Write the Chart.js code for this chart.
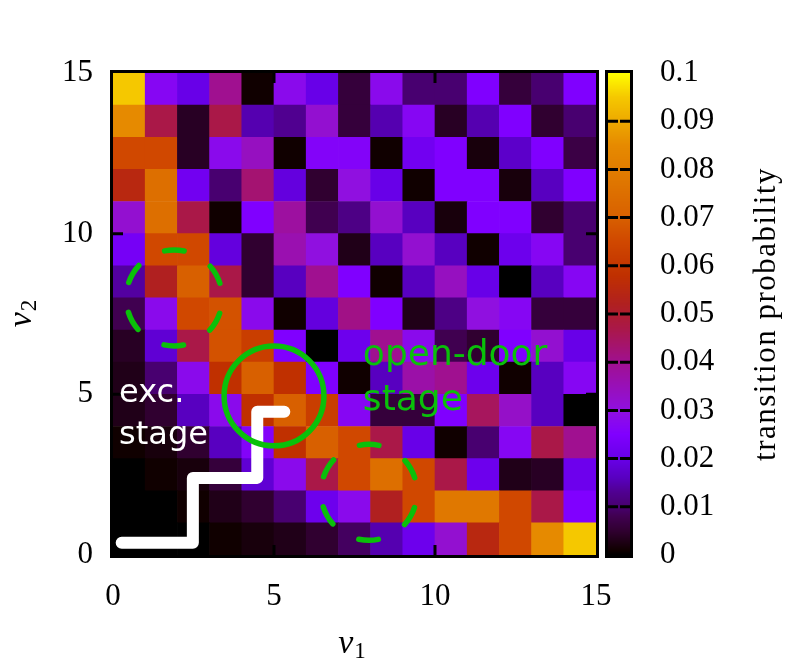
<!DOCTYPE html>
<html>
<head>
<meta charset="utf-8">
<script src="https://cdn.jsdelivr.net/npm/chart.js@4.4.1/dist/chart.umd.min.js"></script>
<style>
  html, body { margin: 0; padding: 0; background: #fff; }
</style>
</head>
<body>
<canvas id="heat" width="785" height="660"></canvas>
<script>
// lower edge of each cell
const nu1Bins = [0, 1, 2, 3, 4, 5, 6, 7, 8, 9, 10, 11, 12, 13, 14];
const nu2Bins = [0, 1, 2, 3, 4, 5, 6, 7, 8, 9, 10, 11, 12, 13, 14];

// transition probability, one array per nu2 row, ordered by nu1
const pNu2_0  = [0.000, 0.000, 0.000, 0.001, 0.002, 0.003, 0.005, 0.009, 0.015, 0.021, 0.032, 0.055, 0.065, 0.085, 0.095];
const pNu2_1  = [0.000, 0.000, 0.001, 0.003, 0.005, 0.010, 0.021, 0.028, 0.052, 0.065, 0.078, 0.078, 0.065, 0.047, 0.025];
const pNu2_2  = [0.000, 0.001, 0.002, 0.006, 0.018, 0.028, 0.047, 0.065, 0.075, 0.065, 0.047, 0.021, 0.003, 0.004, 0.021];
const pNu2_3  = [0.001, 0.002, 0.005, 0.016, 0.026, 0.058, 0.070, 0.065, 0.047, 0.020, 0.001, 0.010, 0.027, 0.047, 0.040];
const pNu2_4  = [0.003, 0.005, 0.016, 0.028, 0.058, 0.070, 0.062, 0.027, 0.006, 0.006, 0.025, 0.045, 0.033, 0.016, 0.000];
const pNu2_5  = [0.003, 0.010, 0.028, 0.058, 0.070, 0.058, 0.025, 0.001, 0.016, 0.037, 0.040, 0.021, 0.001, 0.016, 0.027];
const pNu2_6  = [0.004, 0.018, 0.047, 0.067, 0.062, 0.025, 0.000, 0.021, 0.040, 0.028, 0.008, 0.005, 0.025, 0.032, 0.020];
const pNu2_7  = [0.008, 0.028, 0.065, 0.067, 0.028, 0.001, 0.019, 0.041, 0.025, 0.003, 0.012, 0.030, 0.027, 0.006, 0.006];
const pNu2_8  = [0.014, 0.052, 0.070, 0.047, 0.005, 0.016, 0.040, 0.025, 0.001, 0.016, 0.034, 0.020, 0.000, 0.016, 0.027];
const pNu2_9  = [0.023, 0.065, 0.065, 0.019, 0.005, 0.036, 0.030, 0.003, 0.016, 0.032, 0.016, 0.001, 0.021, 0.027, 0.010];
const pNu2_10 = [0.032, 0.075, 0.047, 0.001, 0.025, 0.038, 0.008, 0.012, 0.032, 0.016, 0.002, 0.025, 0.025, 0.005, 0.010];
const pNu2_11 = [0.055, 0.075, 0.022, 0.010, 0.043, 0.019, 0.005, 0.030, 0.020, 0.001, 0.025, 0.025, 0.002, 0.016, 0.025];
const pNu2_12 = [0.065, 0.065, 0.004, 0.028, 0.034, 0.001, 0.026, 0.026, 0.001, 0.022, 0.025, 0.002, 0.017, 0.025, 0.007];
const pNu2_13 = [0.085, 0.047, 0.004, 0.047, 0.015, 0.013, 0.032, 0.006, 0.015, 0.027, 0.004, 0.015, 0.025, 0.005, 0.010];
const pNu2_14 = [0.095, 0.027, 0.020, 0.040, 0.001, 0.028, 0.020, 0.006, 0.028, 0.010, 0.010, 0.025, 0.006, 0.010, 0.025];

const probRows = [pNu2_0, pNu2_1, pNu2_2, pNu2_3, pNu2_4, pNu2_5, pNu2_6, pNu2_7,
                  pNu2_8, pNu2_9, pNu2_10, pNu2_11, pNu2_12, pNu2_13, pNu2_14];

const axisTicks = [0, 5, 10, 15];
const cbTicks = [0, 0.01, 0.02, 0.03, 0.04, 0.05, 0.06, 0.07, 0.08, 0.09, 0.1];

// palette stops (value -> colour)
const stopValues = [0, 0.001, 0.003, 0.005, 0.008, 0.01, 0.013, 0.016, 0.02, 0.025, 0.03, 0.04,
                    0.047, 0.052, 0.058, 0.065, 0.07, 0.078, 0.085, 0.095, 0.1];
const stopColors = ['#000000', '#100000', '#200018', '#300030', '#400050', '#480070', '#500090',
                    '#5800c0', '#6800e8', '#8000ff', '#9010e0', '#a01090', '#aa1848', '#b02020',
                    '#c03000', '#d04800', '#d86000', '#e07800', '#e68a00', '#f5c800', '#ffff00'];

function hexToRgb(h) {
  return [parseInt(h.slice(1, 3), 16), parseInt(h.slice(3, 5), 16), parseInt(h.slice(5, 7), 16)];
}

function colorFor(v) {
  if (v <= stopValues[0]) return stopColors[0];
  for (let k = 1; k < stopValues.length; k++) {
    if (v <= stopValues[k]) {
      const t = (v - stopValues[k - 1]) / (stopValues[k] - stopValues[k - 1]);
      const a = hexToRgb(stopColors[k - 1]), b = hexToRgb(stopColors[k]);
      const c = a.map((q, n) => Math.round(q + (b[n] - q) * t));
      return 'rgb(' + c.join(',') + ')';
    }
  }
  return stopColors[stopColors.length - 1];
}

const tickFont = { family: "'Liberation Serif', 'Times New Roman', serif", size: 31 };
const green = '#0ac00a';

// overlays: frame, inward ticks, colour bar, annotations, axis titles
const overlay = {
  id: 'overlay',
  afterDraw(chart) {
    const ctx = chart.ctx;
    const a = chart.chartArea;
    const x = chart.scales.x, y = chart.scales.y, cb = chart.scales.cb;
    ctx.save();

    // plot frame + inward ticks
    ctx.strokeStyle = '#000';
    ctx.lineWidth = 3;
    ctx.strokeRect(a.left - 1.5, a.top - 1.5, a.width + 3, a.height + 3);
    ctx.beginPath();
    [5, 10].forEach(function(v) {
      const px = x.getPixelForValue(v), py = y.getPixelForValue(v);
      ctx.moveTo(px, a.bottom); ctx.lineTo(px, a.bottom - 10);
      ctx.moveTo(px, a.top); ctx.lineTo(px, a.top + 10);
      ctx.moveTo(a.left, py); ctx.lineTo(a.left + 10, py);
      ctx.moveTo(a.right, py); ctx.lineTo(a.right - 10, py);
    });
    ctx.stroke();

    // colour bar
    const cx0 = a.right + 12, cx1 = a.right + 34;
    const top = cb.getPixelForValue(0.1), bot = cb.getPixelForValue(0);
    for (let py = Math.floor(top); py < bot; py++) {
      ctx.fillStyle = colorFor(cb.getValueForPixel(py + 0.5));
      ctx.fillRect(cx0, py, cx1 - cx0, 1);
    }
    ctx.strokeRect(cx0 - 1.5, top - 1.5, cx1 - cx0 + 3, bot - top + 3);
    ctx.beginPath();
    cbTicks.slice(1, -1).forEach(function(v) {
      const py = cb.getPixelForValue(v);
      ctx.moveTo(cx0, py); ctx.lineTo(cx0 + 10, py);
      ctx.moveTo(cx1 - 10, py); ctx.lineTo(cx1, py);
    });
    ctx.stroke();

    // colour bar title
    ctx.fillStyle = '#000';
    ctx.font = "31px 'Liberation Serif', serif";
    ctx.textAlign = 'center';
    ctx.textBaseline = 'alphabetic';
    ctx.save();
    ctx.translate(775, (a.top + a.bottom) / 2);
    ctx.rotate(-Math.PI / 2);
    if ('letterSpacing' in ctx) ctx.letterSpacing = '1.5px';
    ctx.fillText('transition probability', 0, 0);
    ctx.restore();

    // axis titles nu_1, nu_2
    function nuLabel(sub) {
      ctx.font = "italic 34px 'Liberation Serif', serif";
      const w1 = ctx.measureText('ν').width;
      ctx.font = "23px 'Liberation Serif', serif";
      const w2 = ctx.measureText(sub).width;
      const start = -(w1 + w2) / 2;
      ctx.textAlign = 'left';
      ctx.font = "italic 34px 'Liberation Serif', serif";
      ctx.fillText('ν', start, 0);
      ctx.font = "23px 'Liberation Serif', serif";
      ctx.fillText(sub, start + w1 + 1, 5);
    }
    ctx.save();
    ctx.translate((a.left + a.right) / 2 - 3, 653);
    nuLabel('1');
    ctx.restore();
    ctx.save();
    ctx.translate(31, (a.top + a.bottom) / 2);
    ctx.rotate(-Math.PI / 2);
    nuLabel('2');
    ctx.restore();

    // clip annotations to plot area
    ctx.save();
    ctx.beginPath();
    ctx.rect(a.left, a.top, a.width, a.height);
    ctx.clip();

    const unit = x.getPixelForValue(1) - x.getPixelForValue(0);

    // excitation path (white staircase)
    const path = [[0.27, 0.38], [2.48, 0.38], [2.48, 2.4], [4.48, 2.4], [4.48, 4.46], [5.32, 4.46]];
    ctx.strokeStyle = '#fff';
    ctx.lineWidth = 12;
    ctx.lineCap = 'round';
    ctx.lineJoin = 'round';
    ctx.beginPath();
    path.forEach(function(p, k) {
      const px = x.getPixelForValue(p[0]), py = y.getPixelForValue(p[1]);
      if (k === 0) ctx.moveTo(px, py); else ctx.lineTo(px, py);
    });
    ctx.stroke();

    // solid green circle
    ctx.strokeStyle = green;
    ctx.lineWidth = 5.5;
    ctx.beginPath();
    ctx.arc(x.getPixelForValue(5.0), y.getPixelForValue(4.95), 1.55 * unit, 0, Math.PI * 2);
    ctx.stroke();

    // dashed green circles
    [[1.9, 8.0], [7.95, 1.95]].forEach(function(c) {
      const r = 1.49 * unit;
      const period = 2 * Math.PI * r / 6;
      const dash = period * 0.5 - 5.5;
      ctx.setLineDash([dash, period - dash]);
      ctx.lineCap = 'round';
      const a0 = -101.5 * Math.PI / 180;
      ctx.beginPath();
      ctx.arc(x.getPixelForValue(c[0]), y.getPixelForValue(c[1]), r, a0, a0 + Math.PI * 2);
      ctx.stroke();
    });
    ctx.setLineDash([]);

    // stage labels
    ctx.textAlign = 'left';
    ctx.textBaseline = 'alphabetic';
    ctx.fillStyle = '#fff';
    ctx.font = "32px 'DejaVu Sans', sans-serif";
    ctx.fillText('exc.', x.getPixelForValue(0.19), y.getPixelForValue(4.76));
    ctx.fillText('stage', x.getPixelForValue(0.19), y.getPixelForValue(3.45));
    ctx.fillStyle = green;
    ctx.font = "36px 'DejaVu Sans', sans-serif";
    ctx.fillText('open-door', x.getPixelForValue(7.76), y.getPixelForValue(5.91));
    ctx.fillText('stage', x.getPixelForValue(7.76), y.getPixelForValue(4.51));
    ctx.restore();

    ctx.restore();
  }
};

const datasets = probRows.map(function(row, j) {
  return {
    label: 'ν2 = ' + nu2Bins[j],
    data: row.map(function(p, i) { return { x: nu1Bins[i] + 0.5, y: 1 }; }),
    backgroundColor: row.map(colorFor),
    borderWidth: 0,
    barPercentage: 1,
    categoryPercentage: 1
  };
});

const config = {
  type: 'bar',
  data: { datasets: datasets },
  options: {
    responsive: false,
    animation: false,
    events: [],
    layout: { padding: { top: 73, right: 0, bottom: 0, left: 0 } },
    plugins: { legend: { display: false }, tooltip: { enabled: false } },
    scales: {
      x: {
        type: 'linear',
        min: 0, max: 15,
        offset: false,
        stacked: true,
        grid: { display: false, drawTicks: false, offset: false },
        border: { display: false },
        afterBuildTicks: function(s) { s.ticks = axisTicks.map(function(v) { return { value: v }; }); },
        afterFit: function(s) { s.height = 105; },
        ticks: { font: tickFont, color: '#000', padding: 23, maxRotation: 0 }
      },
      y: {
        type: 'linear',
        min: 0, max: 15,
        stacked: true,
        grid: { display: false, drawTicks: false },
        border: { display: false },
        afterBuildTicks: function(s) { s.ticks = axisTicks.map(function(v) { return { value: v }; }); },
        afterFit: function(s) { s.width = 113; s.paddingTop = 20; s.paddingBottom = 20; },
        ticks: { font: tickFont, color: '#000', padding: 20 }
      },
      cb: {
        type: 'linear',
        position: 'right',
        min: 0, max: 0.1,
        grid: { display: false, drawTicks: false },
        border: { display: false },
        afterBuildTicks: function(s) { s.ticks = cbTicks.map(function(v) { return { value: v }; }); },
        afterFit: function(s) { s.width = 189; s.paddingTop = 20; s.paddingBottom = 20; },
        ticks: {
          font: tickFont, color: '#000', padding: 64,
          callback: function(v) { return String(+v.toFixed(2)); }
        }
      }
    }
  },
  plugins: [overlay]
};

new Chart(document.getElementById('heat'), config);
</script>
</body>
</html>
